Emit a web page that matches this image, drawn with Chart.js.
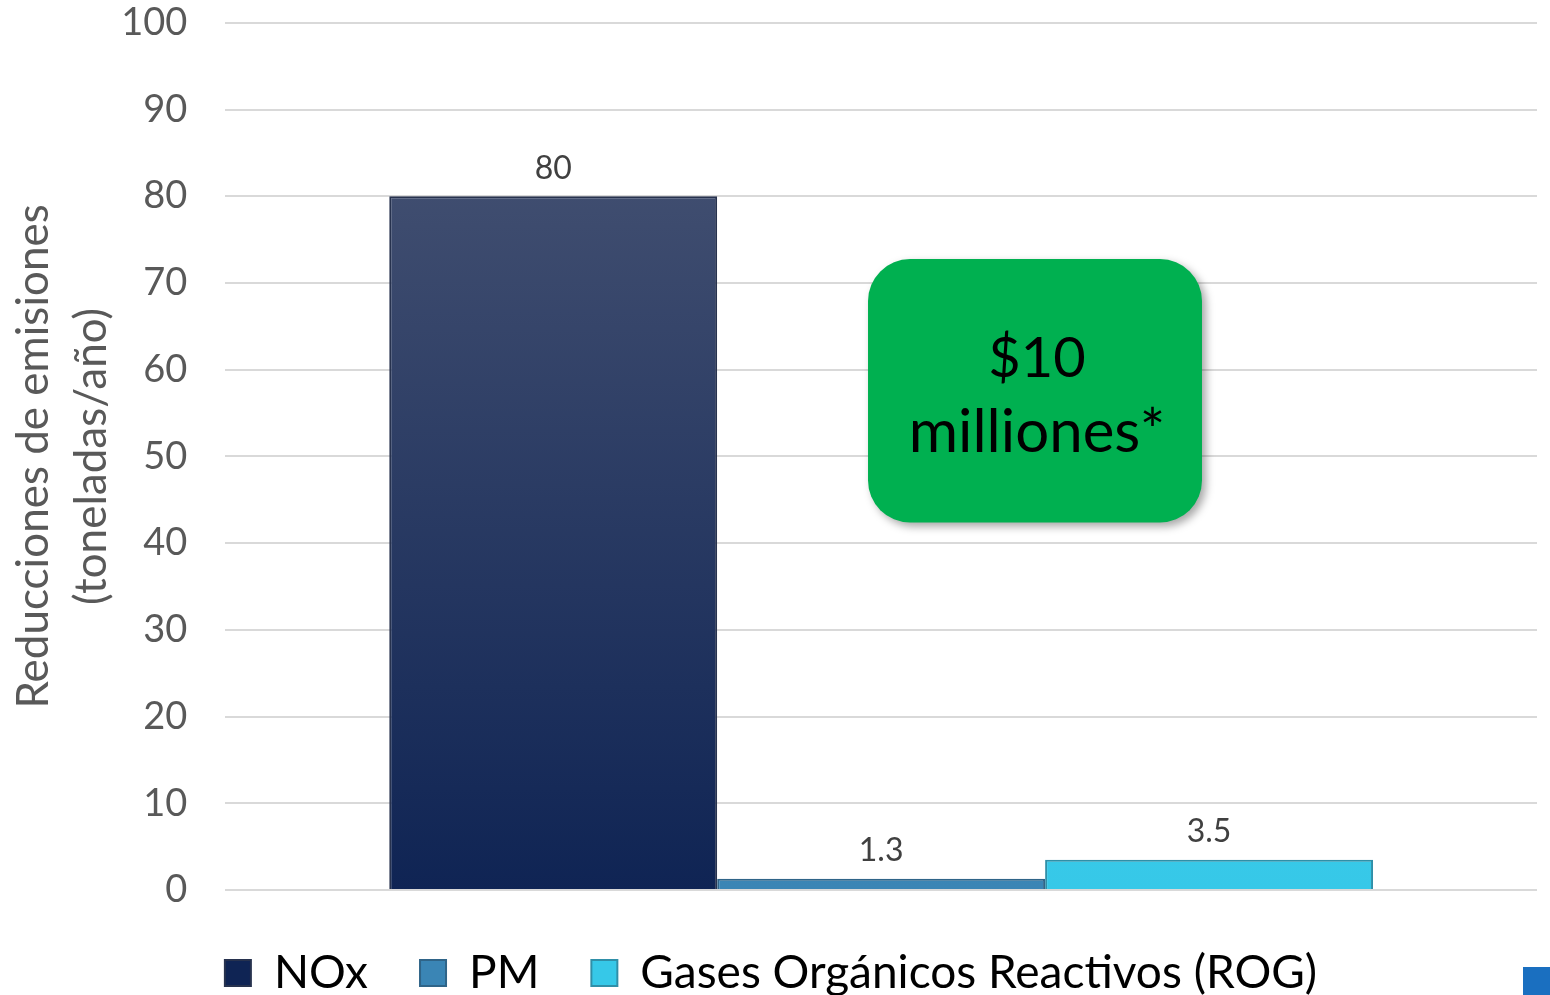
<!DOCTYPE html>
<html>
<head>
<meta charset="utf-8">
<script src="https://cdn.jsdelivr.net/npm/chart.js@4.4.1/dist/chart.umd.min.js"></script>
<style>
  html, body { margin: 0; padding: 0; background: #fff; }
  #wrap { width: 1550px; height: 995px; position: relative; }
</style>
</head>
<body>
<div id="wrap"><canvas id="emisiones"></canvas></div>
<script>
// datos del grafico
var categorias = ['Reducciones'];
var series = ['NOx', 'PM', 'Gases Orgánicos Reactivos (ROG)'];
var valoresNOx = [80];
var valoresPM = [1.3];
var valoresROG = [3.5];
var yTitulo = ['Reducciones de emisiones', '(toneladas/año)'];
var notaLinea1 = '$10';
var notaLinea2 = 'milliones*';

var FONT = 'Lato, "Open Sans", sans-serif';

// degradado vertical del alto de la barra
function barGradient(top, bottom) {
  return function (ctx) {
    var chart = ctx.chart;
    var area = chart.chartArea;
    if (!area) return bottom;
    var el = ctx.element;
    var y0 = area.top, y1 = area.bottom;
    if (el && el.y !== undefined && el.base !== undefined && el.base - el.y > 2) {
      y0 = el.y; y1 = el.base;
    }
    var g = chart.ctx.createLinearGradient(0, y0, 0, y1);
    g.addColorStop(0, top);
    g.addColorStop(1, bottom);
    return g;
  };
}

var valueLabels = {
  id: 'valueLabels',
  afterDatasetsDraw: function (chart) {
    var ctx = chart.ctx;
    ctx.save();
    ctx.font = '32px ' + FONT;
    ctx.fillStyle = '#404040';
    ctx.textAlign = 'center';
    ctx.textBaseline = 'bottom';
    chart.data.datasets.forEach(function (ds, i) {
      chart.getDatasetMeta(i).data.forEach(function (bar, j) {
        ctx.fillText(String(ds.data[j]), bar.x, bar.y - 12);
      });
    });
    ctx.restore();
  }
};

var costBox = {
  id: 'costBox',
  afterDraw: function (chart) {
    var a = chart.chartArea;
    var w = a.right - a.left, h = a.bottom - a.top;
    var x = a.left + w * 0.490, y = a.top + h * 0.2725;
    var bw = w * 0.2546, bh = h * 0.3037, r = 42;
    var ctx = chart.ctx;
    ctx.save();
    ctx.shadowColor = 'rgba(0,0,0,0.35)';
    ctx.shadowBlur = 8;
    ctx.shadowOffsetX = 4;
    ctx.shadowOffsetY = 4;
    ctx.fillStyle = '#00b050';
    ctx.beginPath();
    ctx.roundRect(x, y, bw, bh, r);
    ctx.fill();
    ctx.restore();

    ctx.save();
    ctx.fillStyle = '#000';
    ctx.textAlign = 'center';
    ctx.textBaseline = 'alphabetic';
    ctx.font = '56px ' + FONT;
    ctx.fillText(notaLinea1, x + bw / 2 + 2, y + 118);
    ctx.font = '60px ' + FONT;
    ctx.fillText(notaLinea2, x + bw / 2 + 2, y + 193);
    ctx.restore();

    // icono azul en la esquina
    ctx.save();
    ctx.fillStyle = '#1a6fc0';
    ctx.fillRect(chart.width - 27, chart.height - 28, 27, 28);
    ctx.restore();
  }
};

new Chart(document.getElementById('emisiones'), {
  type: 'bar',
  data: {
    labels: categorias,
    datasets: [
      {
        label: series[0],
        data: valoresNOx,
        backgroundColor: barGradient('#4b5776', '#0f2454'),
        borderColor: '#27324e',
        borderWidth: 2
      },
      {
        label: series[1],
        data: valoresPM,
        backgroundColor: barGradient('#4d9bc9', '#3a85b5'),
        borderColor: '#2f6488',
        borderWidth: 2
      },
      {
        label: series[2],
        data: valoresROG,
        backgroundColor: barGradient('#58d5f0', '#36c8e8'),
        borderColor: '#2f8fa8',
        borderWidth: 2
      }
    ]
  },
  options: {
    responsive: true,
    maintainAspectRatio: false,
    animation: false,
    layout: { padding: { top: 3, right: 13, left: 5, bottom: -11 } },
    datasets: {
      bar: { categoryPercentage: 0.75, barPercentage: 1.0 }
    },
    plugins: {
      tooltip: { enabled: false },
      legend: {
        position: 'bottom',
        labels: {
          color: '#000',
          font: { family: FONT, size: 46 },
          boxWidth: 26,
          boxHeight: 26,
          padding: 52
        }
      }
    },
    scales: {
      x: {
        grid: { display: false },
        border: { display: false },
        ticks: { display: false }
      },
      y: {
        min: 0,
        max: 100,
        ticks: {
          stepSize: 10,
          color: '#595959',
          font: { family: FONT, size: 38 },
          padding: 0
        },
        grid: {
          color: '#d9d9d9',
          lineWidth: 2,
          drawTicks: true,
          tickLength: 38,
          tickColor: 'rgba(0,0,0,0)'
        },
        border: { display: false },
        title: {
          display: true,
          text: yTitulo,
          color: '#595959',
          font: { family: FONT, size: 44, lineHeight: 1.32 },
          padding: 0
        }
      }
    }
  },
  plugins: [valueLabels, costBox]
});
</script>
</body>
</html>
